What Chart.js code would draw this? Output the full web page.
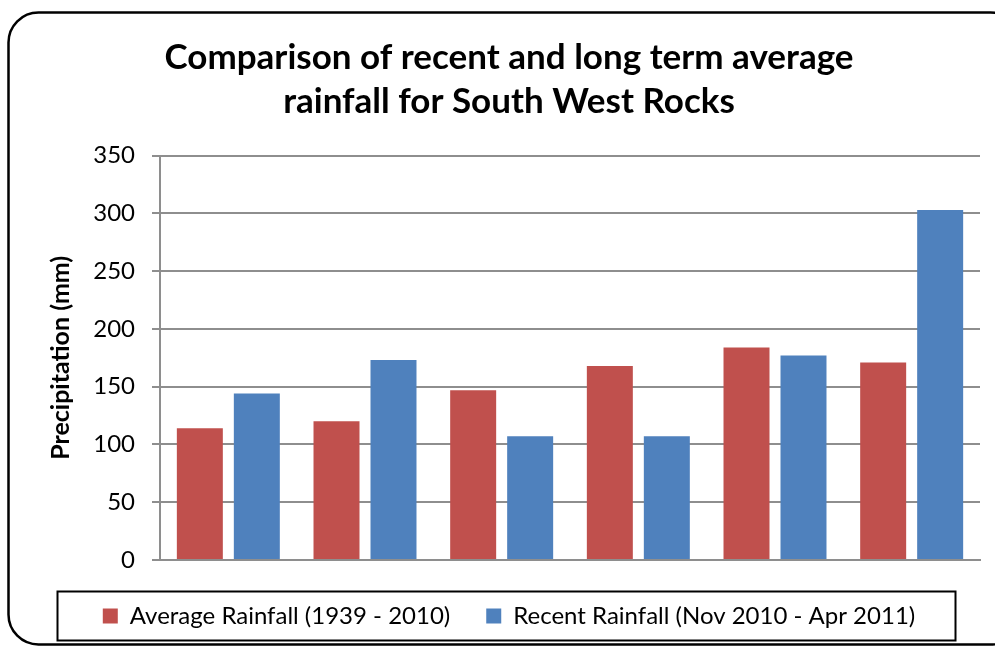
<!DOCTYPE html>
<html>
<head>
<meta charset="utf-8">
<script src="https://cdn.jsdelivr.net/npm/chart.js@4"></script>
<style>
  html, body { margin: 0; padding: 0; background: #ffffff; }
  #wrap { width: 995px; height: 646px; }
</style>
</head>
<body>
<div id="wrap"><canvas id="c" width="995" height="646"></canvas></div>
<script>
// Monthly rainfall at South West Rocks, Nov 2010 - Apr 2011 vs. long-term means (mm)
const months = ['Nov', 'Dec', 'Jan', 'Feb', 'Mar', 'Apr'];
const averageRainfall = [114, 120, 147, 168, 184, 171];
const recentRainfall = [144, 173, 107, 107, 177, 303];
const yTicks = [0, 50, 100, 150, 200, 250, 300, 350];

const titleLines = ['Comparison of recent and long term average', 'rainfall for South West Rocks'];
const seriesNames = ['Average Rainfall (1939 - 2010)', 'Recent Rainfall (Nov 2010 - Apr 2011)'];

const FONT = 'Lato, "Open Sans", sans-serif';
const GRID = '#8e8e8e';

// Rounded frame around the whole chart
const framePlugin = {
  id: 'frame',
  beforeDraw(chart) {
    const ctx = chart.ctx;
    ctx.save();
    ctx.fillStyle = '#ffffff';
    ctx.fillRect(0, 0, chart.width, chart.height);
    ctx.beginPath();
    ctx.roundRect(8.5, 12.5, 1012, 632, 30);
    ctx.lineWidth = 2.5;
    ctx.strokeStyle = '#000000';
    ctx.stroke();
    ctx.restore();
  }
};

// Boxed outline around the legend entries
const legendBoxPlugin = {
  id: 'legendBox',
  afterDraw(chart) {
    const lg = chart.legend;
    if (!lg || !lg.legendHitBoxes || !lg.legendHitBoxes.length) return;
    const hb = lg.legendHitBoxes;
    const minX = Math.min(...hb.map(h => h.left));
    const maxX = Math.max(...hb.map(h => h.left + h.width));
    const cy = hb[0].top + hb[0].height / 2;
    const ctx = chart.ctx;
    ctx.save();
    ctx.lineWidth = 2;
    ctx.strokeStyle = '#000000';
    ctx.strokeRect(Math.round(minX - 46) + 0.5, Math.round(cy - 25) + 0.5, Math.round(maxX - minX + 86), 49);
    ctx.restore();
  }
};

new Chart(document.getElementById('c'), {
  type: 'bar',
  data: {
    labels: months,
    datasets: [
      { label: seriesNames[0], data: averageRainfall, backgroundColor: '#C0504D', borderWidth: 0,
        categoryPercentage: 0.834, barPercentage: 0.807 },
      { label: seriesNames[1], data: recentRainfall, backgroundColor: '#4F81BD', borderWidth: 0,
        categoryPercentage: 0.834, barPercentage: 0.807 }
    ]
  },
  options: {
    responsive: false,
    devicePixelRatio: 1,
    animation: false,
    layout: { padding: { left: 38, right: 15, top: 14, bottom: 8 } },
    plugins: {
      title: {
        display: true,
        text: titleLines,
        color: '#000000',
        font: { family: FONT, size: 35, weight: 'bold', lineHeight: 1.28 },
        padding: { top: 21, bottom: 31 }
      },
      legend: {
        display: true,
        position: 'bottom',
        labels: {
          color: '#000000',
          font: { family: FONT, size: 24 },
          boxWidth: 15,
          boxHeight: 15,
          padding: 36
        }
      },
      tooltip: { enabled: false }
    },
    scales: {
      x: {
        grid: { display: false },
        ticks: { display: false },
        border: { display: true, color: GRID, width: 2 }
      },
      y: {
        min: 0,
        max: 350,
        afterBuildTicks(scale) { scale.ticks = yTicks.map(v => ({ value: v })); },
        afterFit(scale) { scale.width = 122; },
        ticks: { color: '#000000', font: { family: FONT, size: 24 }, padding: 17 },
        grid: { color: GRID, lineWidth: 2, tickLength: 8 },
        border: { display: true, color: GRID, width: 2 },
        title: {
          display: true,
          text: 'Precipitation (mm)',
          color: '#000000',
          font: { family: FONT, size: 25, weight: 'bold' },
          padding: { top: 8, bottom: 0 }
        }
      }
    }
  },
  plugins: [framePlugin, legendBoxPlugin]
});
</script>
</body>
</html>
